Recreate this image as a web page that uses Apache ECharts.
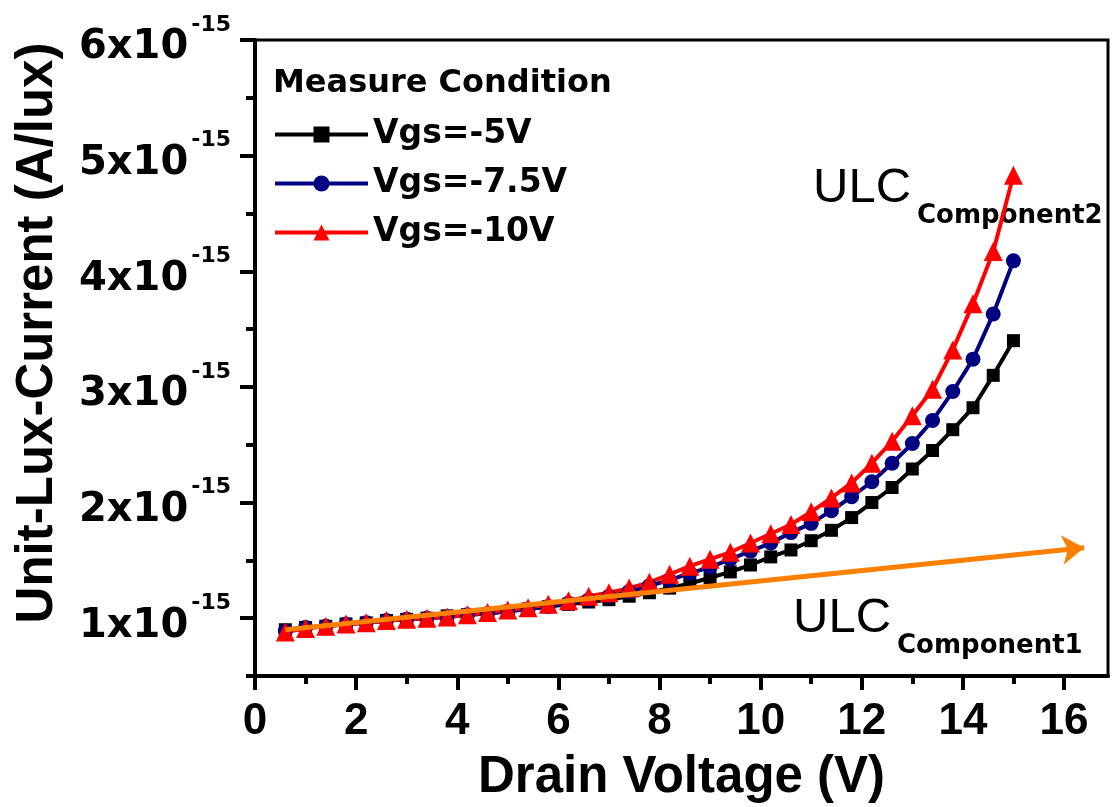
<!DOCTYPE html>
<html>
<head>
<meta charset="utf-8">
<script src="https://cdn.jsdelivr.net/npm/echarts@6/dist/echarts.min.js"></script>
<style>html,body{margin:0;padding:0;background:#fff;}#c{width:1113px;height:807px;}</style>
</head>
<body>
<div id="c"></div>
<script>
const drainV = [0.6,1.0,1.4,1.8,2.2,2.6,3.0,3.4,3.8,4.2,4.6,5.0,5.4,5.8,6.2,6.6,7.0,7.4,7.8,8.2,8.6,9.0,9.4,9.8,10.2,10.6,11.0,11.4,11.8,12.2,12.6,13.0,13.4,13.8,14.2,14.6,15.0];
const vgs5  = [0.90,0.92,0.93,0.95,0.96,0.98,0.99,1.00,1.02,1.03,1.04,1.06,1.08,1.10,1.12,1.14,1.16,1.19,1.22,1.26,1.30,1.35,1.40,1.46,1.53,1.59,1.67,1.76,1.87,2.00,2.13,2.29,2.45,2.63,2.82,3.10,3.40];
const vgs75 = [0.89,0.92,0.93,0.95,0.96,0.98,0.99,1.00,1.01,1.03,1.04,1.06,1.08,1.10,1.13,1.16,1.19,1.23,1.28,1.33,1.39,1.44,1.51,1.58,1.65,1.74,1.82,1.93,2.05,2.18,2.34,2.51,2.71,2.96,3.24,3.63,4.09];
const vgs10 = [0.88,0.91,0.93,0.95,0.96,0.98,0.99,1.00,1.01,1.03,1.05,1.07,1.09,1.12,1.15,1.19,1.22,1.26,1.31,1.38,1.45,1.51,1.57,1.65,1.73,1.81,1.92,2.04,2.17,2.34,2.53,2.75,2.98,3.32,3.72,4.17,4.83];
const seriesNames = ['Vgs=-5V','Vgs=-7.5V','Vgs=-10V'];
const arrowStart = [0.6, 0.90];
const arrowEnd = [16.4, 1.61];
const yMajorTicks = [1,2,3,4,5,6];
const xMajorTicks = [0,2,4,6,8,10,12,14,16];

function pairs(xs, ys){ return xs.map((x,i)=>[x, ys[i]]); }

const chart = echarts.init(document.getElementById('c'), null, {renderer:'canvas'});
const option = {
  animation: false,
  backgroundColor: '#fff',
  grid: {left:255, right:5, top:40, bottom:131, show:true, borderColor:'#000', borderWidth:3, containLabel:false, outerBoundsMode:'none'},
  legend: {
    orient:'vertical', left:268, top:113, itemWidth:93, itemHeight:20, itemGap:16,
    data: seriesNames,
    lineStyle:{width:4},
    textStyle:{fontFamily:'DejaVu Sans', fontWeight:'bold', fontSize:33, color:'#000'}
  },
  xAxis: [{
    type:'value', min:0, max:16.87, interval:1, position:'bottom',
    axisLine:{show:true, onZero:false, lineStyle:{color:'#000', width:4}},
    axisTick:{show:true, inside:false, length:8, lineStyle:{color:'#000', width:4}},
    axisLabel:{margin:24, color:'#000', fontFamily:'Liberation Sans', fontWeight:'bold', fontSize:44,
      formatter: v => (Math.abs(v % 2) < 1e-9 ? String(v) : ''), showMaxLabel:false},
    splitLine:{show:false},
    name:'Drain Voltage (V)', nameLocation:'middle', nameGap:76,
    nameTextStyle:{fontFamily:'Liberation Sans', fontWeight:'bold', fontSize:51, color:'#000'}
  },{
    type:'value', min:0, max:16.87, position:'bottom',
    axisLine:{show:false},
    axisTick:{show:true, length:14, customValues:xMajorTicks, lineStyle:{color:'#000', width:4}},
    axisLabel:{show:false}, splitLine:{show:false}
  }],
  yAxis: [{
    type:'value', min:0.5, max:6, interval:0.5, position:'left',
    axisLine:{show:true, onZero:false, lineStyle:{color:'#000', width:4}},
    axisTick:{show:true, length:9, lineStyle:{color:'#000', width:4}},
    axisLabel:{margin:24, color:'#000',
      formatter: v => (Math.abs(v - Math.round(v)) < 1e-9 ? '{p| }{b|' + Math.round(v) + 'x10}{s|-15}' : ''),
      rich:{
        p:{fontSize:2, lineHeight:56, verticalAlign:'top'},
        b:{fontFamily:'DejaVu Sans', fontWeight:'bold', fontSize:40, lineHeight:40, verticalAlign:'bottom', color:'#000'},
        s:{fontFamily:'DejaVu Sans', fontWeight:'bold', fontSize:22, lineHeight:26, verticalAlign:'top', color:'#000', padding:[2,0,0,3]}
      }},
    splitLine:{show:false}
  },{
    type:'value', min:0.5, max:6, position:'left',
    axisLine:{show:false},
    axisTick:{show:true, length:15, customValues:yMajorTicks, lineStyle:{color:'#000', width:4}},
    axisLabel:{show:false}, splitLine:{show:false}
  }],
  graphic: [
    {type:'text', x:38, y:333, rotation:Math.PI/2, style:{text:'Unit-Lux-Current (A/lux)', font:'bold 51px "Liberation Sans"', fill:'#000', align:'center', verticalAlign:'middle'}},
    {type:'text', x:273, y:84, style:{text:'Measure Condition', font:'bold 32px "DejaVu Sans"', fill:'#000', align:'left', verticalAlign:'middle'}},
    {type:'text', x:813, y:188, style:{text:'ULC', font:'49px "Liberation Sans"', fill:'#000', align:'left', verticalAlign:'middle'}},
    {type:'text', x:917, y:216, style:{text:'Component2', font:'bold 26px "DejaVu Sans"', fill:'#000', align:'left', verticalAlign:'middle'}},
    {type:'text', x:793, y:618, style:{text:'ULC', font:'49px "Liberation Sans"', fill:'#000', align:'left', verticalAlign:'middle'}},
    {type:'text', x:897, y:646, style:{text:'Component1', font:'bold 26px "DejaVu Sans"', fill:'#000', align:'left', verticalAlign:'middle'}}
  ],
  series: [
    {name:seriesNames[0], type:'line', data:pairs(drainV, vgs5), symbol:'rect', symbolSize:13,
      itemStyle:{color:'#000'}, lineStyle:{color:'#000', width:4}},
    {name:seriesNames[1], type:'line', data:pairs(drainV, vgs75), symbol:'circle', symbolSize:15,
      itemStyle:{color:'#000080'}, lineStyle:{color:'#000080', width:4}},
    {name:seriesNames[2], type:'line', data:pairs(drainV, vgs10), symbol:'triangle', symbolSize:19,
      itemStyle:{color:'#ff0000'}, lineStyle:{color:'#ff0000', width:4}},
    {name:'arrow', type:'line', data:[], symbol:'none',
      markLine:{silent:true, symbol:['none','arrow'], symbolSize:22, label:{show:false},
        lineStyle:{color:'#ff8000', width:5, type:'solid'},
        itemStyle:{color:'#ff8000'},
        emphasis:{disabled:true},
        data:[[{coord:arrowStart}, {coord:arrowEnd}]]}}
  ]
};
chart.setOption(option);
</script>
</body>
</html>
